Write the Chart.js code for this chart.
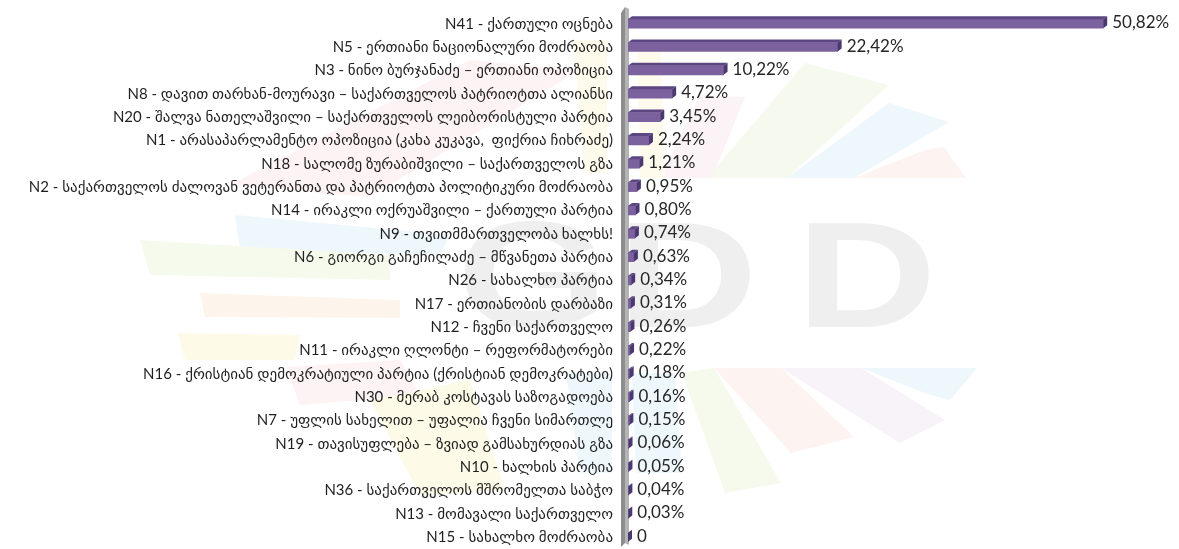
<!DOCTYPE html>
<html>
<head>
<meta charset="utf-8">
<script src="https://cdn.jsdelivr.net/npm/chart.js@4.4.1/dist/chart.umd.min.js"></script>
<style>
  html, body { margin: 0; padding: 0; background: #ffffff; }
  #wrap { position: relative; width: 1179px; height: 549px; }
</style>
</head>
<body>
<div id="wrap"><canvas id="main-chart" width="1179" height="549"></canvas></div>
<script>
// ---------------------------------------------------------------------------
// Party results, horizontal 3D-style bar chart
// ---------------------------------------------------------------------------

const PARTIES = [
  "N41 - ქართული ოცნება",
  "N5 - ერთიანი ნაციონალური მოძრაობა",
  "N3 - ნინო ბურჯანაძე – ერთიანი ოპოზიცია",
  "N8 - დავით თარხან-მოურავი – საქართველოს პატრიოტთა ალიანსი",
  "N20 - შალვა ნათელაშვილი – საქართველოს ლეიბორისტული პარტია",
  "N1 - არასაპარლამენტო ოპოზიცია (კახა კუკავა,  ფიქრია ჩიხრაძე)",
  "N18 - სალომე ზურაბიშვილი – საქართველოს გზა",
  "N2 - საქართველოს ძალოვან ვეტერანთა და პატრიოტთა პოლიტიკური მოძრაობა",
  "N14 - ირაკლი ოქრუაშვილი – ქართული პარტია",
  "N9 - თვითმმართველობა ხალხს!",
  "N6 - გიორგი გაჩეჩილაძე – მწვანეთა პარტია",
  "N26 - სახალხო პარტია",
  "N17 - ერთიანობის დარბაზი",
  "N12 - ჩვენი საქართველო",
  "N11 - ირაკლი ღლონტი – რეფორმატორები",
  "N16 - ქრისტიან დემოკრატიული პარტია (ქრისტიან დემოკრატები)",
  "N30 - მერაბ კოსტავას საზოგადოება",
  "N7 - უფლის სახელით – უფალია ჩვენი სიმართლე",
  "N19 - თავისუფლება – ზვიად გამსახურდიას გზა",
  "N10 - ხალხის პარტია",
  "N36 - საქართველოს მშრომელთა საბჭო",
  "N13 - მომავალი საქართველო",
  "N15 - სახალხო მოძრაობა",
];

const SHARES = [
  50.82, 22.42, 10.22, 4.72, 3.45, 2.24, 1.21, 0.95, 0.80, 0.74, 0.63, 0.34,
  0.31, 0.26, 0.22, 0.18, 0.16, 0.15, 0.06, 0.05, 0.04, 0.03, 0,
];

const X_MAX = 58.5;

// faint background logo (decoration only): pale quads + grey letters
const LOGO_RAYS = [
  [[805, 63], [889, 85], [787, 178], [707, 178], "#f6faee"],
  [[889, 103], [949, 122], [854, 178], [787, 178], "#edf7fc"],
  [[925, 150], [944, 147], [966, 178], [854, 178], "#fdf3f0"],
  [[700, 95], [745, 97], [712, 178], [660, 178], "#fcf3f6"],
  [[637, 40], [660, 40], [665, 178], [640, 178], "#fefaec"],
  [[861, 368], [977, 368], [950, 400], [930, 395], "#edf7fc"],
  [[781, 368], [861, 368], [945, 420], [900, 443], "#f8f3f9"],
  [[714, 368], [781, 368], [854, 437], [791, 453], "#fdf3f0"],
  [[682, 373], [714, 368], [781, 483], [725, 493], "#f6faec"],
  [[632, 373], [675, 373], [682, 473], [636, 473], "#eef7fc"],
  [[470, 60], [580, 70], [370, 197], [230, 185], "#fdf3f4"],
  [[573, 40], [607, 40], [607, 173], [585, 173], "#fefaec"],
  [[235, 215], [450, 235], [440, 255], [240, 250], "#edf7fc"],
  [[140, 240], [390, 255], [390, 280], [150, 275], "#f6faec"],
  [[200, 293], [400, 300], [400, 318], [205, 317], "#fdf5ec"],
  [[178, 333], [300, 335], [295, 360], [185, 360], "#fefae8"],
  [[286, 367], [400, 360], [420, 395], [300, 405], "#fdf3f4"],
  [[370, 400], [470, 380], [505, 490], [420, 495], "#fefae8"],
  [[566, 373], [612, 373], [612, 473], [580, 473], "#eef7fc"],
];
const LOGO_LETTERS = [["G", 470], ["D", 630], ["D", 809]];

const BAR_FRONT = "#7c619f";
const BAR_TOP = "#5d4783";
const BAR_SIDE = "#4b3870";
const DEPTH_X = 4;
const DEPTH_Y = 3;

function fmtShare(v) {
  return v === 0 ? "0" : v.toFixed(2).replace(".", ",") + "%";
}

// ---- background watermark ----
const logoPlugin = {
  id: "logo",
  beforeDraw(chart) {
    const ctx = chart.ctx;
    ctx.save();
    ctx.fillStyle = "#ffffff";
    ctx.fillRect(0, 0, chart.width, chart.height);
    for (const r of LOGO_RAYS) {
      ctx.fillStyle = r[4];
      ctx.beginPath();
      ctx.moveTo(r[0][0], r[0][1]);
      for (let k = 1; k < 4; k++) ctx.lineTo(r[k][0], r[k][1]);
      ctx.closePath();
      ctx.fill();
    }
    ctx.fillStyle = "#efefef";
    ctx.font = "bold 150px 'Liberation Sans'";
    ctx.textBaseline = "alphabetic";
    for (const [ch, lx] of LOGO_LETTERS) {
      ctx.save();
      ctx.translate(lx, 327);
      ctx.scale(1.3, 1);
      ctx.fillText(ch, -10, 0);
      ctx.restore();
    }
    ctx.restore();
  },
};

// ---- 3D wall and bar faces, value labels ----
const depthPlugin = {
  id: "depth",
  beforeDatasetsDraw(chart) {
    const { left, top, bottom } = chart.chartArea;
    const ctx = chart.ctx;
    ctx.save();
    ctx.fillStyle = "#8e8e8e";
    ctx.beginPath();
    ctx.moveTo(left - 7, top + 1);
    ctx.lineTo(left - 3, top - 5);
    ctx.lineTo(left - 3, bottom - 6);
    ctx.lineTo(left - 7, bottom - 2);
    ctx.closePath();
    ctx.fill();
    ctx.fillStyle = "#b4b4b4";
    ctx.beginPath();
    ctx.moveTo(left - 3, top - 5);
    ctx.lineTo(left + 1, top - 3);
    ctx.lineTo(left + 1, bottom - 4);
    ctx.lineTo(left - 3, bottom - 6);
    ctx.closePath();
    ctx.fill();
    ctx.restore();
  },
  afterDatasetsDraw(chart) {
    const ctx = chart.ctx;
    const meta = chart.getDatasetMeta(0);
    ctx.save();
    meta.data.forEach((bar, i) => {
      const x0 = bar.base, x1 = bar.x;
      const t = bar.y - bar.height / 2, b = bar.y + bar.height / 2;
      ctx.fillStyle = BAR_TOP;
      ctx.beginPath();
      ctx.moveTo(x0, t);
      ctx.lineTo(x0 + DEPTH_X, t - DEPTH_Y);
      ctx.lineTo(x1 + DEPTH_X, t - DEPTH_Y);
      ctx.lineTo(x1, t);
      ctx.closePath();
      ctx.fill();
      ctx.fillStyle = BAR_SIDE;
      ctx.beginPath();
      ctx.moveTo(x1, t);
      ctx.lineTo(x1 + DEPTH_X, t - DEPTH_Y);
      ctx.lineTo(x1 + DEPTH_X, b - DEPTH_Y);
      ctx.lineTo(x1, b);
      ctx.closePath();
      ctx.fill();

      ctx.fillStyle = "#262626";
      ctx.font = "17px Lato, 'Open Sans', sans-serif";
      ctx.textAlign = "left";
      ctx.textBaseline = "middle";
      ctx.fillText(fmtShare(SHARES[i]), x1 + DEPTH_X + 5, bar.y - 1);
    });
    ctx.restore();
  },
};

const ctx = document.getElementById("main-chart").getContext("2d");

new Chart(ctx, {
  type: "bar",
  data: {
    labels: PARTIES,
    datasets: [{
      data: SHARES,
      backgroundColor: BAR_FRONT,
      borderWidth: 0,
      barThickness: 9,
    }],
  },
  options: {
    indexAxis: "y",
    responsive: false,
    animation: false,
    layout: { padding: { top: 12, bottom: 0, left: 0, right: 4 } },
    plugins: {
      legend: { display: false },
      tooltip: { enabled: false },
    },
    scales: {
      x: {
        display: false,
        min: 0,
        max: X_MAX,
      },
      y: {
        grid: { display: false, drawTicks: false },
        border: { display: false },
        ticks: {
          padding: 15,
          color: "#1f1f1f",
          font: { size: 15, family: "Lato, 'DejaVu Sans', sans-serif" },
          autoSkip: false,
        },
        afterFit(scale) {
          scale.width = 628;
          scale.paddingTop = 0;
          scale.paddingBottom = 0;
        },
      },
    },
  },
  plugins: [logoPlugin, depthPlugin],
});
</script>
</body>
</html>
